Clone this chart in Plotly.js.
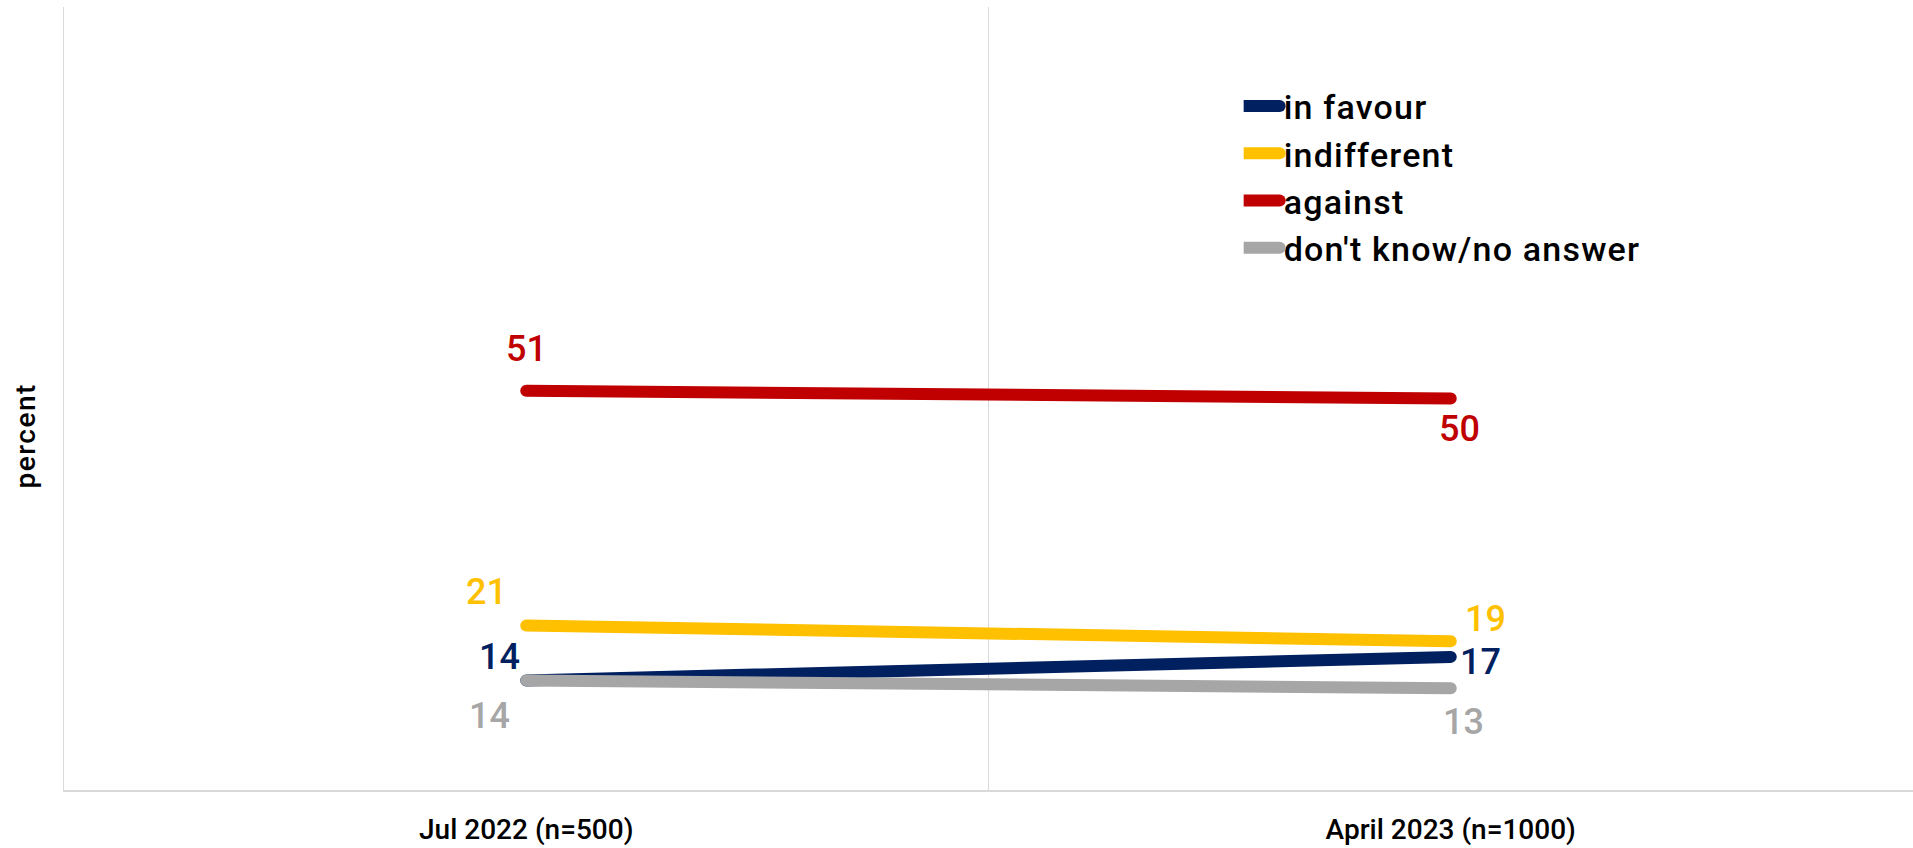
<!DOCTYPE html>
<html>
<head>
<meta charset="utf-8">
<script src="https://cdn.plot.ly/plotly-3.0.1.min.js"></script>
<style>
  html, body { margin: 0; padding: 0; background: #fff; }
  #chart { width: 1913px; height: 848px; }
  .js-line { stroke-linecap: round !important; }
  .legend .legendlines path.js-line {
    d: path("M-14,0h50") !important;
    stroke-width: 12px !important;
  }
  .legendtext { letter-spacing: 1.2px; }
  .annotation[data-index="8"] text { letter-spacing: 1.5px; }
</style>
</head>
<body>
<div id="chart"></div>
<script>
const categories = ["Jul 2022 (n=500)", "April 2023 (n=1000)"];
const seriesNames = ["in favour", "indifferent", "against", "don't know/no answer"];
const inFavour = [14, 17];
const indifferent = [21, 19];
const against = [51, 50];
const dontKnow = [14, 13];
const colors = ["#002060", "#FFC000", "#C00000", "#A6A6A6"];

const allSeries = [inFavour, indifferent, against, dontKnow];
// label offsets in px [xshift, yshift] per series per point (style only)
const labelOffsets = [
  [[-27, 23], [30, -5]],
  [[-40, 34], [35, 22]],
  [[0, 42], [9, -30]],
  [[-37, -36], [13, -34]]
];

const FONT = "Roboto, 'DejaVu Sans', sans-serif";

const traces = allSeries.map((vals, i) => ({
  type: "scatter", mode: "lines", x: categories, y: vals, name: seriesNames[i],
  line: { color: colors[i], width: 12 }, hoverinfo: "skip"
}));

const annotations = [];
allSeries.forEach((vals, i) => {
  vals.forEach((v, j) => {
    annotations.push({
      x: categories[j], y: v, xref: "x", yref: "y",
      text: String(v), showarrow: false,
      xshift: labelOffsets[i][j][0], yshift: labelOffsets[i][j][1],
      font: { family: FONT, size: 36, weight: 500, color: colors[i] }
    });
  });
});
annotations.push({
  xref: "paper", yref: "paper", x: -0.021, y: 0.452,
  text: "percent", textangle: -90, showarrow: false,
  xanchor: "center", yanchor: "middle",
  font: { family: FONT, size: 28, weight: 500, color: "#000" }
});

const layout = {
  width: 1913, height: 848,
  margin: { l: 64, r: 0, t: 7, b: 58 },
  paper_bgcolor: "#fff", plot_bgcolor: "#fff",
  showlegend: true, hovermode: false,
  font: { family: FONT, color: "#000" },
  xaxis: {
    type: "category", range: [-0.5, 1.5], tickson: "boundaries",
    showgrid: true, gridcolor: "#d9d9d9", gridwidth: 1.5,
    showline: true, linecolor: "#d9d9d9", linewidth: 1.5,
    ticks: "", ticklen: 0, ticklabelstandoff: 14,
    tickfont: { family: FONT, size: 28, weight: 500, color: "#000" },
    zeroline: false, fixedrange: true
  },
  yaxis: {
    range: [0, 100], showgrid: false, zeroline: false,
    showticklabels: false, ticks: "",
    showline: true, linecolor: "#d9d9d9", linewidth: 1.5, fixedrange: true
  },
  legend: {
    x: 0.638, y: 0.91, xanchor: "left", yanchor: "top",
    bgcolor: "rgba(0,0,0,0)",
    font: { family: FONT, size: 34, weight: 500, color: "#000" },
    tracegroupgap: 0
  },
  annotations: annotations
};

const gd = document.getElementById("chart");
Plotly.newPlot(gd, traces, layout, { displayModeBar: false, staticPlot: true });
</script>
</body>
</html>
